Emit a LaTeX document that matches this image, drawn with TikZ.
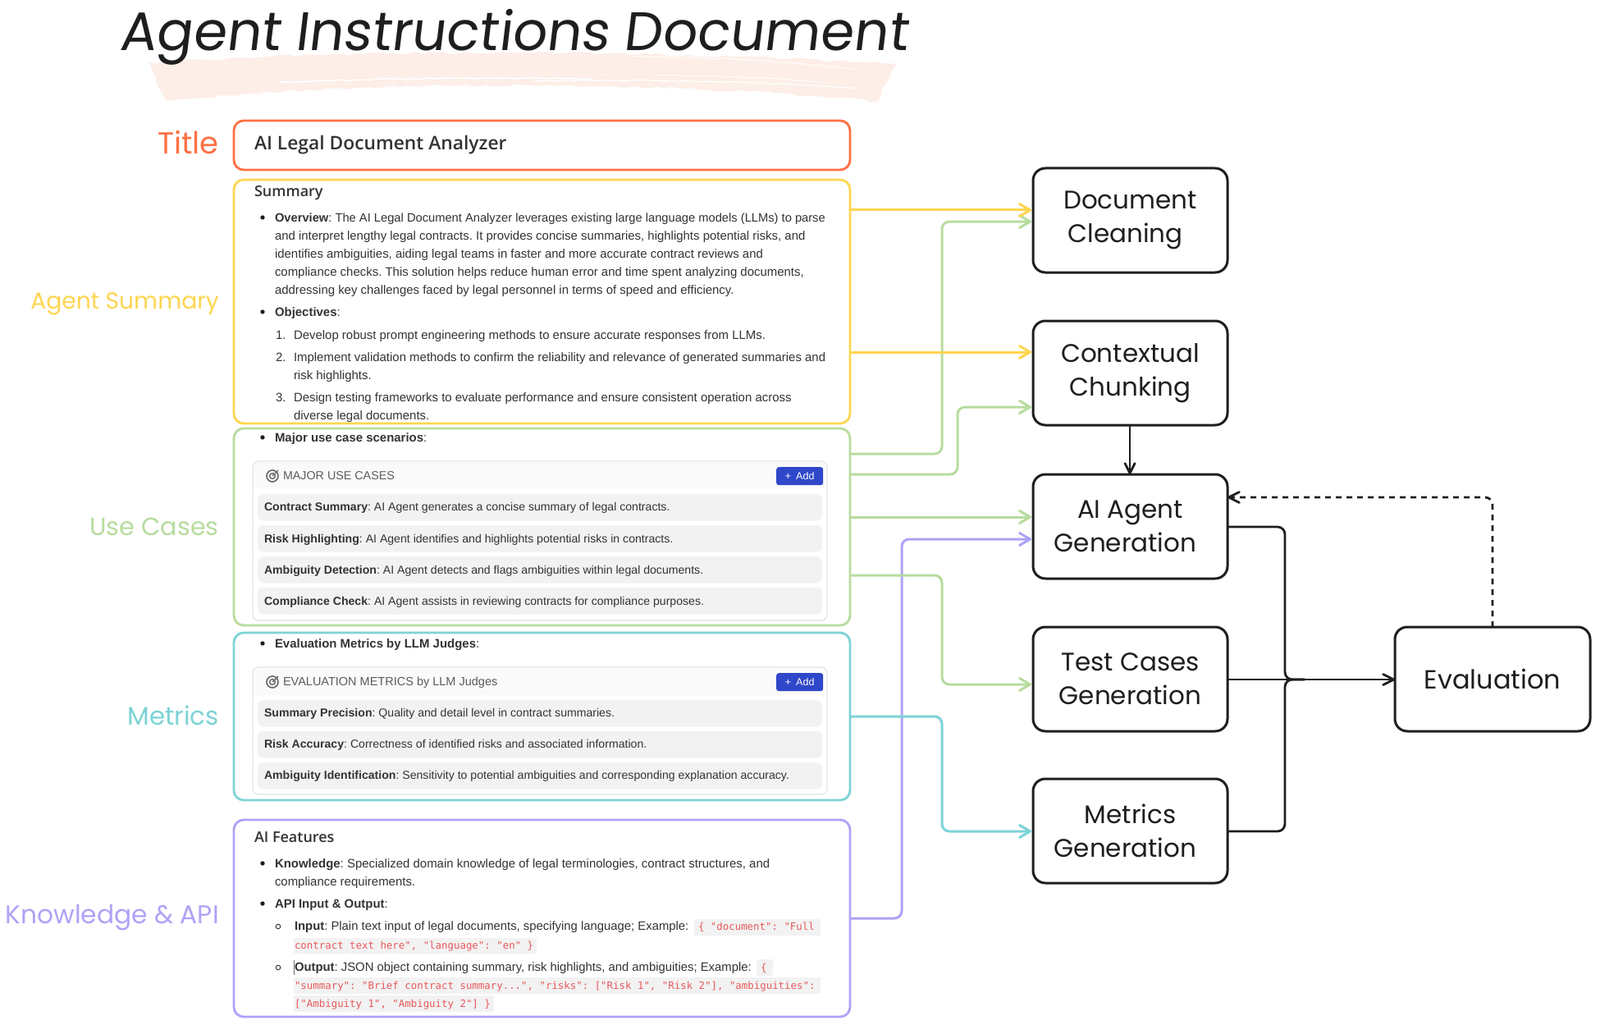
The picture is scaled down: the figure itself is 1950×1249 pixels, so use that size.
\documentclass[tikz,border=0pt]{standalone}
\usepackage{fontspec}
\setmainfont{Liberation Sans}
\setmonofont{DejaVu Sans Mono}
\newfontfamily\hand{Poppins}
\newfontfamily\handslant[FakeSlant=0.12]{Poppins}
\newfontfamily\semib{Open Sans Semibold}
\usetikzlibrary{arrows.meta,decorations.pathmorphing}
\definecolor{cOrange}{HTML}{FF7043}
\definecolor{cYellow}{HTML}{FFD54F}
\definecolor{cGreen}{HTML}{B7DC9E}
\definecolor{cTeal}{HTML}{7DD3D6}
\definecolor{cPurple}{HTML}{ADA3F6}
\definecolor{cInk}{HTML}{1E1E1E}
\definecolor{cBrush}{HTML}{FDEEE8}
\definecolor{cBody}{HTML}{333333}
\definecolor{cRow}{HTML}{F2F2F2}
\definecolor{cHead}{HTML}{FAFAFA}
\definecolor{cLine}{HTML}{E4E4E4}
\definecolor{cBtn}{HTML}{2F47C9}
\definecolor{cCode}{HTML}{E8595C}
\newcounter{tl}
\newcommand{\tline}[4][14.95]{\stepcounter{tl}\node[bodytext,font=\fontsize{#1}{18}\selectfont] (t\arabic{tl}) at (#2,{#3+5}) {\frenchspacing #4};}
\newcommand{\bul}[2]{\fill[cInk] (#1,#2) circle (2.7pt);}
\newcommand{\cbul}[2]{\draw[cBody,line width=0.9pt] (#1,#2) circle (2.8pt);}
\newcommand{\codebg}[4]{\fill[cRow,rounded corners=2pt] (#1,#2) rectangle (#3,#4);}
\newcommand{\ctext}[3]{\stepcounter{tl}\node[bodytext,text=cCode,font=\ttfamily\fontsize{12.4}{16}\selectfont] (t\arabic{tl}) at (#1,{#2+4.5}) {#3};}
\newcommand{\card}[2]{%
  \draw[cLine,fill=white,line width=1.2pt,rounded corners=7pt] (308,#1) rectangle (1008,#2);
  \fill[cHead,rounded corners=7pt] (309,#1+1) rectangle (1007,#1+34);
  \fill[cHead] (309,#1+20) rectangle (1007,#1+34);
}
\newcommand{\rowbar}[1]{\fill[cRow,rounded corners=7pt] (314,#1) rectangle (1002,#1+32.5);}
\newcommand{\target}[1]{%
  \draw[cBody!75,line width=1.6pt] (332,#1) circle (7pt);
  \draw[cBody!75,line width=1.4pt] (332,#1) circle (3.4pt);
  \draw[cBody!75,line width=1.4pt] (332,#1) -- (339,#1-7);
}
\newcommand{\addbtn}[2]{\node[btn,anchor=north west] (#2) at (946,#1) {+\hspace{6pt}Add};}
\tikzset{
  panel/.style={draw=#1,line width=2.8pt,rounded corners=12pt,fill=none,anchor=north west,outer sep=0pt,inner sep=0pt},
  stage/.style={draw=cInk,line width=3pt,rounded corners=15pt,fill=white,anchor=north west,outer sep=0pt,inner sep=0pt,
    minimum width=237pt,minimum height=127pt,align=center,font=\hand\fontsize{31}{41}\selectfont,text=cInk},
  bodytext/.style={anchor=base west,inner sep=0pt,outer sep=0pt,text=cBody},
  sidelabel/.style={anchor=east,inner sep=0pt},
  btn/.style={fill=cBtn,text=white,rounded corners=3pt,minimum width=57pt,minimum height=22pt,inner sep=0pt,font=\fontsize{12.5}{14}\selectfont},
  flow/.style={draw=#1,line width=3pt,rounded corners=9pt,shorten >=2pt,-{Straight Barb[length=13pt,width=15pt,round]}},
  ink/.style={draw=cInk,line width=2.8pt,rounded corners=9pt},
}
\begin{document}
\begin{tikzpicture}[x=1pt,y=-1pt]
\useasboundingbox (0,0) rectangle (1950,1249);
\fill[white] (0,0) rectangle (1950,1249);

% brush stroke
\fill[cBrush,decorate,decoration={random steps,segment length=9pt,amplitude=1.6pt}] (182,76) .. controls (400,62) and (760,58) .. (1092,78) -- (1075,108) -- (1070,124)
  .. controls (900,104) and (500,92) .. (205,123) .. controls (195,110) and (188,95) .. (182,76) -- cycle;
\begin{scope}[white,decorate,decoration={random steps,segment length=7pt,amplitude=0.7pt}]
\draw[line width=1.6pt,decorate] (340,100) .. controls (500,95) and (620,94) .. (720,96);
\draw[line width=1.2pt,decorate] (650,99) .. controls (800,96) and (950,100) .. (1045,108);
\draw[line width=1pt,decorate] (770,69) .. controls (860,69) and (950,74) .. (1040,84);
\draw[line width=1pt,decorate] (800,92) .. controls (880,92) and (940,95) .. (1000,100);
\end{scope}

\node[anchor=base west,inner sep=0pt,text=cInk,font=\handslant\fontsize{66}{70}\selectfont] (head) at (145,62) {Agent Instructions Document};

% side labels
\node[sidelabel,text=cOrange,font=\hand\fontsize{37}{40}\selectfont] (lblTitle) at (267,174) {Title};
\node[sidelabel,text=cYellow,font=\hand\fontsize{28.2}{32}\selectfont] (lblSum) at (267,370) {Agent Summary};
\node[sidelabel,text=cGreen,font=\hand\fontsize{30.3}{32}\selectfont] (lblUse) at (267,642) {Use Cases};
\node[sidelabel,text=cTeal,font=\hand\fontsize{31}{32}\selectfont] (lblMet) at (267,872) {Metrics};
\node[sidelabel,text=cPurple,font=\hand\fontsize{31.3}{32}\selectfont] (lblKnow) at (267,1118) {Knowledge \& API};

% panels
\node[panel=cOrange,minimum width=751pt,minimum height=60pt] (title) at (285,147) {};
\node[panel=cYellow,minimum width=751pt,minimum height=297pt] (sum) at (285,219) {};
\node[panel=cGreen,minimum width=751pt,minimum height=240pt] (use) at (285,522) {};
\node[panel=cTeal,minimum width=751pt,minimum height=204pt] (met) at (285,771) {};
\node[panel=cPurple,minimum width=751pt,minimum height=240pt] (feat) at (285,999) {};

% title panel text
\tline[22.8]{310}{178}{{\semib AI Legal Document Analyzer}}

% summary panel
\tline[18]{310}{235}{{\semib Summary}}
\bul{320}{265}
\tline[14.7]{335}{265}{\textbf{Overview}: The AI Legal Document Analyzer leverages existing large language models (LLMs) to parse}
\tline{335}{287}{and interpret lengthy legal contracts. It provides concise summaries, highlights potential risks, and}
\tline{335}{309}{identifies ambiguities, aiding legal teams in faster and more accurate contract reviews and}
\tline{335}{331}{compliance checks. This solution helps reduce human error and time spent analyzing documents,}
\tline{335}{353}{addressing key challenges faced by legal personnel in terms of speed and efficiency.}
\bul{320}{380}
\tline{335}{380}{\textbf{Objectives}:}
\tline{336}{408}{1.}
\tline{358}{408}{Develop robust prompt engineering methods to ensure accurate responses from LLMs.}
\tline{336}{435}{2.}
\tline{358}{435}{Implement validation methods to confirm the reliability and relevance of generated summaries and}
\tline{358}{457}{risk highlights.}
\tline{336}{484}{3.}
\tline{358}{484}{Design testing frameworks to evaluate performance and ensure consistent operation across}
\tline{358}{506}{diverse legal documents.}

% use-case panel
\bul{320}{533}
\tline{335}{533}{\textbf{Major use case scenarios}:}
\card{562}{756}
\target{580}
\tline[14.3]{345}{579}{\color{cBody!80}MAJOR USE CASES}
\addbtn{569}{addUse}
\rowbar{602}\rowbar{640}\rowbar{678}\rowbar{716}
\tline[14.1]{322}{617}{\textbf{Contract Summary}: AI Agent generates a concise summary of legal contracts.}
\tline[14.1]{322}{656}{\textbf{Risk Highlighting}: AI Agent identifies and highlights potential risks in contracts.}
\tline[14.1]{322}{694}{\textbf{Ambiguity Detection}: AI Agent detects and flags ambiguities within legal documents.}
\tline[14.1]{322}{732}{\textbf{Compliance Check}: AI Agent assists in reviewing contracts for compliance purposes.}

% metrics panel
\bul{320}{784}
\tline{335}{784}{\textbf{Evaluation Metrics by LLM Judges}:}
\card{813}{968}
\target{831}
\tline[14.5]{345}{830}{\color{cBody!80}EVALUATION METRICS by LLM Judges}
\addbtn{820}{addMet}
\rowbar{853}\rowbar{891}\rowbar{929}
\tline[14.1]{322}{868}{\textbf{Summary Precision}: Quality and detail level in contract summaries.}
\tline[14.1]{322}{906}{\textbf{Risk Accuracy}: Correctness of identified risks and associated information.}
\tline[14.1]{322}{944}{\textbf{Ambiguity Identification}: Sensitivity to potential ambiguities and corresponding explanation accuracy.}

% features panel
\tline[18]{310}{1021}{{\semib AI Features}}
\bul{320}{1052}
\tline{335}{1052}{\textbf{Knowledge}: Specialized domain knowledge of legal terminologies, contract structures, and}
\tline{335}{1074}{compliance requirements.}
\bul{320}{1101}
\tline{335}{1101}{\textbf{API Input \& Output}:}
\cbul{339}{1129}
\tline[14.85]{359}{1128}{\textbf{Input}: Plain text input of legal documents, specifying language; Example:}
\codebg{846}{1120}{1000}{1140}
\ctext{851}{1129}{\{ "document": "Full}
\codebg{358}{1143}{654}{1162}
\ctext{359}{1152}{contract text here", "language": "en" \}}
\cbul{339}{1179}
\draw[cBody!70,line width=0.8pt] (358.5,1170) -- (358.5,1188);
\tline[14.85]{359}{1178}{\textbf{Output}: JSON object containing summary, risk highlights, and ambiguities; Example:}
\codebg{922}{1169}{942}{1189}
\ctext{927}{1179}{\{}
\codebg{358}{1191}{1000}{1211}
\ctext{359}{1201}{"summary": "Brief contract summary...", "risks": ["Risk 1", "Risk 2"], "ambiguities":}
\codebg{358}{1213}{602}{1233}
\ctext{359}{1223}{["Ambiguity 1", "Ambiguity 2"] \}}

% pipeline stages
\node[stage] (clean) at (1259,205) {Document\\Cleaning\hspace*{12pt}};
\node[stage] (chunk) at (1259,391) {Contextual\\Chunking};
\node[stage] (agent) at (1259,578) {AI Agent\\Generation\hspace*{12pt}};
\node[stage] (tests) at (1259,764) {Test Cases\\Generation};
\node[stage] (metr) at (1259,949) {Metrics\\Generation\hspace*{12pt}};
\node[stage,minimum width=238pt,font=\hand\fontsize{32}{41}\selectfont] (eval) at (1700,764) {Evaluation};

% connectors
\draw[flow=cGreen] (use.east |- 0,553) -- (1148,553) -- (1148,270) -- (clean.west |- 0,270);
\draw[flow=cGreen] (use.east |- 0,578) -- (1167,578) -- (1167,496) -- (chunk.west |- 0,496);
\draw[flow=cGreen] (use.east |- 0,630) -- (agent.west |- 0,630);
\draw[flow=cPurple] (feat.east |- 0,1119) -- (1099,1119) -- (1099,657) -- (agent.west |- 0,657);
\draw[flow=cGreen] (use.east |- 0,701) -- (1148,701) -- (1148,834) -- (tests.west |- 0,834);
\draw[flow=cTeal] (met.east |- 0,873) -- (1148,873) -- (1148,1013) -- (metr.west |- 0,1013);
\draw[flow=cYellow] (sum.east |- 0,256) -- (clean.west |- 0,256);
\draw[flow=cYellow] (sum.east |- 0,429) -- (chunk.west |- 0,429);

\draw[ink,-{Straight Barb[length=12pt,width=12pt,round]}] (chunk.south -| 1377,0) -- (agent.north -| 1377,0);
\draw[ink] (agent.east |- 0,642) -- (1566,642) -- (1566,828) -- (1590,828);
\draw[ink] (metr.east |- 0,1013) -- (1566,1013) -- (1566,828) -- (1590,828);
\draw[ink,-{Straight Barb[length=13pt,width=13pt,round]}] (tests.east |- 0,828) -- (eval.west |- 0,828);
\draw[ink,dashed,dash pattern=on 7pt off 6pt,-{Straight Barb[length=13pt,width=13pt,round]}] (eval.north -| 1819,0) -- (1819,606) -- (agent.east |- 0,606);
\end{tikzpicture}
\end{document}
